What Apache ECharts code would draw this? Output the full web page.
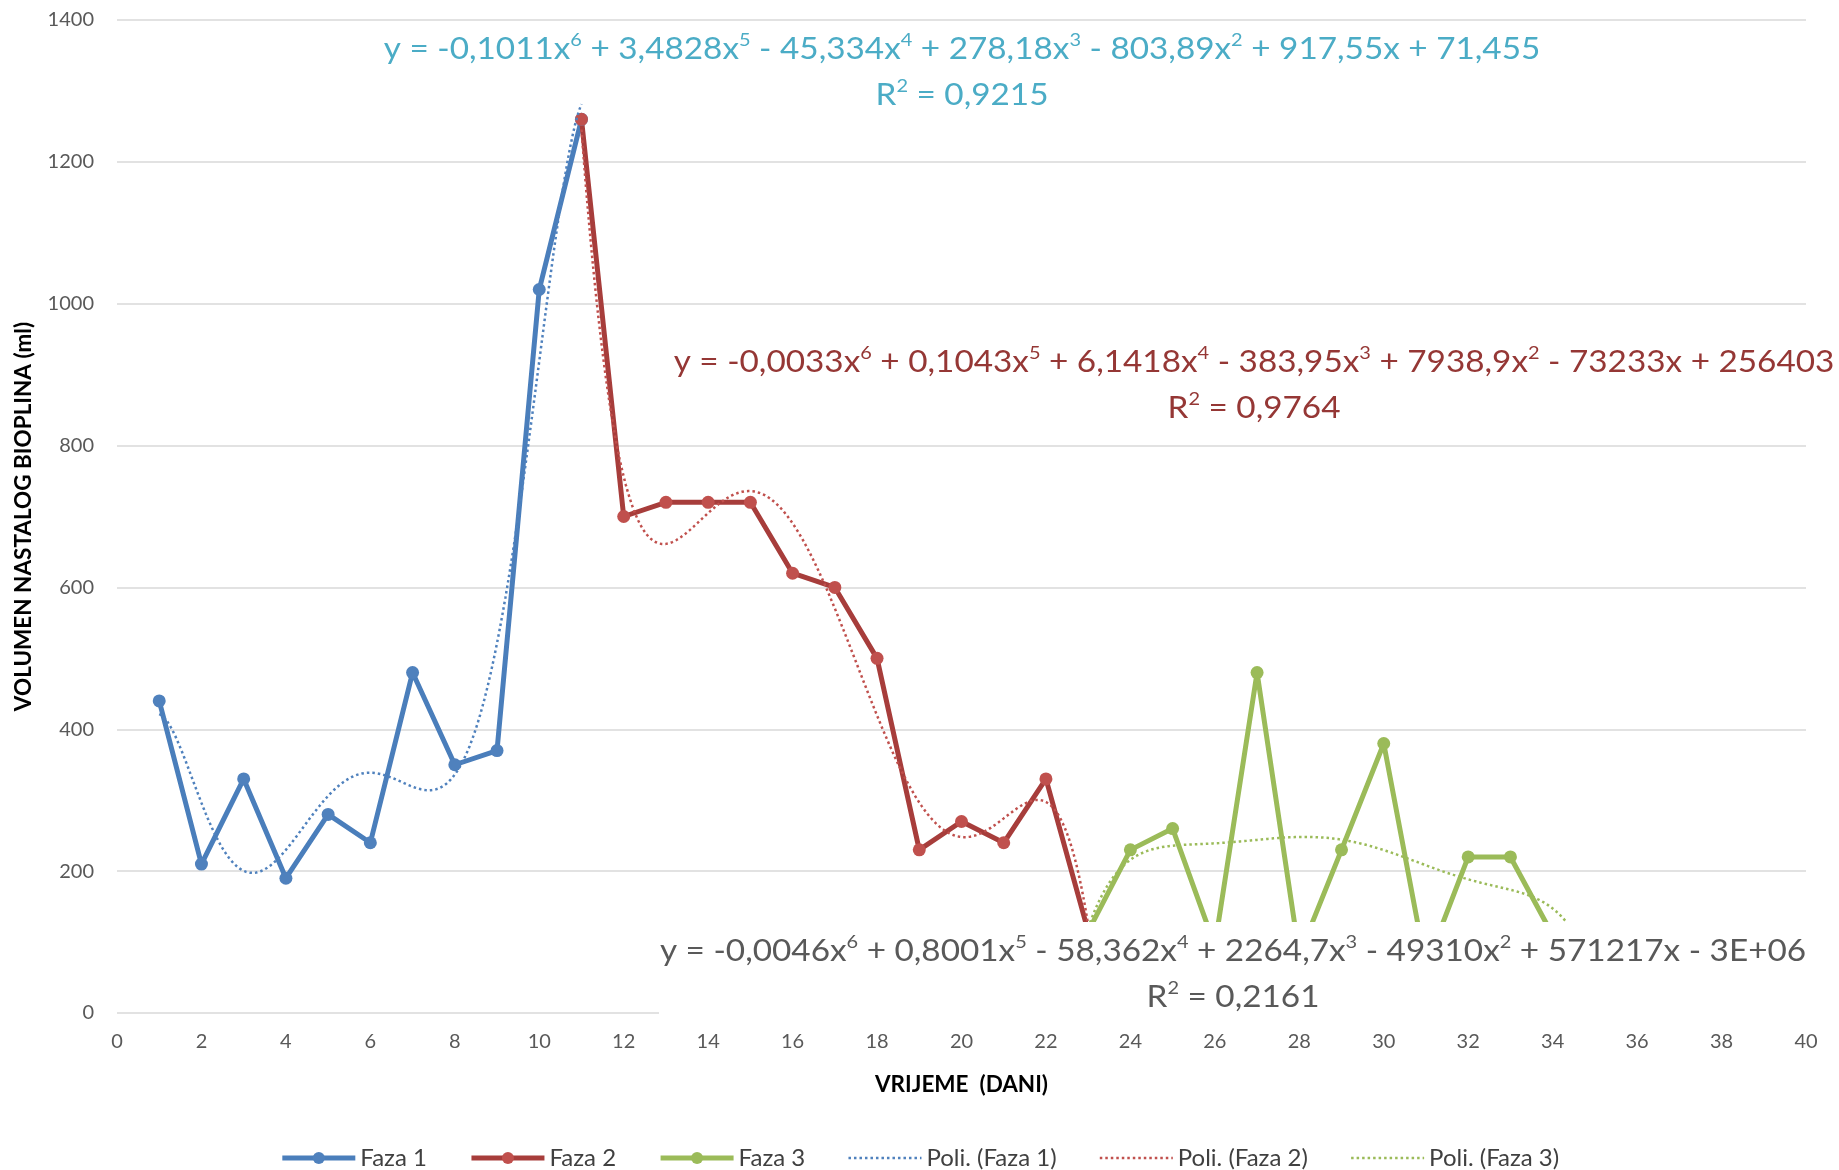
<!DOCTYPE html>
<html>
<head>
<meta charset="utf-8">
<script src="https://cdn.jsdelivr.net/npm/echarts@6/dist/echarts.min.js"></script>
<style>
  html, body { margin: 0; padding: 0; background: #ffffff; }
  #chart { width: 1839px; height: 1170px; }
</style>
</head>
<body>
<div id="chart"></div>
<script>
// Dnevni volumen nastalog bioplina (ml) po fazama pokusa
const daniFaza1 = [1, 2, 3, 4, 5, 6, 7, 8, 9, 10, 11];
const volFaza1  = [440, 210, 330, 190, 280, 240, 480, 350, 370, 1020, 1260];

const daniFaza2 = [11, 12, 13, 14, 15, 16, 17, 18, 19, 20, 21, 22, 23];
const volFaza2  = [1260, 700, 720, 720, 720, 620, 600, 500, 230, 270, 240, 330, 115];

const daniFaza3 = [23, 24, 25, 26, 27, 28, 29, 30, 31, 32, 33, 34, 35];
const volFaza3  = [115, 230, 260, 95, 480, 82, 230, 380, 65, 220, 220, 110, 60];

const legendNames = ['Faza 1', 'Faza 2', 'Faza 3', 'Poli. (Faza 1)', 'Poli. (Faza 2)', 'Poli. (Faza 3)'];

// Least-squares polynomial trend (degree 6), same as a spreadsheet "Poly." trendline
function polyFit(xs, ys, deg) {
  const n = xs.length;
  const mx = xs.reduce((a, b) => a + b, 0) / n;
  const sx = Math.max(...xs.map(x => Math.abs(x - mx))) || 1;
  const m = deg + 1;
  const A = Array.from({ length: m }, () => new Array(m + 1).fill(0));
  for (let i = 0; i < n; i++) {
    const t = (xs[i] - mx) / sx;
    const p = [1];
    for (let k = 1; k < 2 * m; k++) p.push(p[k - 1] * t);
    for (let r = 0; r < m; r++) {
      for (let c = 0; c < m; c++) A[r][c] += p[r + c];
      A[r][m] += ys[i] * p[r];
    }
  }
  for (let col = 0; col < m; col++) {
    let piv = col;
    for (let r = col + 1; r < m; r++) if (Math.abs(A[r][col]) > Math.abs(A[piv][col])) piv = r;
    [A[col], A[piv]] = [A[piv], A[col]];
    for (let r = 0; r < m; r++) {
      if (r === col) continue;
      const f = A[r][col] / A[col][col];
      for (let c = col; c <= m; c++) A[r][c] -= f * A[col][c];
    }
  }
  const coef = A.map((row, i) => row[m] / row[i]);
  const fn = x => {
    const t = (x - mx) / sx;
    let s = 0;
    for (let k = m - 1; k >= 0; k--) s = s * t + coef[k];
    return s;
  };
  return { fn };
}

// Sample the fitted trend across the series' own day range
function trendPoints(xs, ys) {
  const fit = polyFit(xs, ys, 6);
  const x0 = Math.min(...xs), x1 = Math.max(...xs);
  const pts = [];
  const steps = Math.round((x1 - x0) / 0.05);
  for (let i = 0; i <= steps; i++) {
    const x = x0 + (x1 - x0) * i / steps;
    pts.push([x, fit.fn(x)]);
  }
  return pts;
}

const zip = (xs, ys) => xs.map((x, i) => [x, ys[i]]);

const trend1 = trendPoints(daniFaza1, volFaza1);
const trend2 = trendPoints(daniFaza2, volFaza2);
const trend3 = trendPoints(daniFaza3, volFaza3);

const BLUE = '#4F81BD', BLUE_LINE = '#4A7EBB';
const RED = '#C0504D', RED_LINE = '#A73D3B';
const GREEN = '#9BBB59';

function dataSeries(name, xs, ys, lineColor, markColor) {
  return {
    name, type: 'line', data: zip(xs, ys),
    symbol: 'circle', symbolSize: 13, showSymbol: true,
    lineStyle: { width: 5, color: lineColor },
    itemStyle: { color: markColor },
    emphasis: { disabled: true },
    z: 3
  };
}
function trendSeries(name, pts, color) {
  return {
    name, type: 'line', data: pts,
    symbol: 'none', silent: true,
    lineStyle: { width: 2.5, color, type: [2.5, 3] },
    itemStyle: { color },
    emphasis: { disabled: true },
    z: 4
  };
}

const FONT = 'Lato, "Open Sans", sans-serif';
const eqRich = (color) => ({
  n: { fontSize: 30, fontFamily: FONT, lineHeight: 36, fill: color, color, verticalAlign: 'middle' },
  s: { fontSize: 18, fontFamily: FONT, lineHeight: 22, fill: color, color, verticalAlign: 'top' }
});
// Trendline equation / R² label, centred on (x, y)
function eqText(x, y, text, color) {
  return {
    type: 'text', z: 60, silent: true, x, y, scaleX: 1.11,
    style: {
      x: 0, y: 0, text, rich: eqRich(color),
      fill: color, font: '30px ' + FONT,
      align: 'center', textAlign: 'center',
      verticalAlign: 'middle', textVerticalAlign: 'middle'
    }
  };
}

const legendData = legendNames.map((name, i) => i < 3
  ? { name, lineStyle: { width: 5 } }
  : { name, lineStyle: { width: 2.5 }, itemStyle: { opacity: 0 } });

const chart = echarts.init(document.getElementById('chart'), null, { renderer: 'canvas' });

chart.setOption({
  animation: false,
  backgroundColor: '#ffffff',
  textStyle: { fontFamily: FONT },
  grid: { left: 117, right: 33, top: 20, bottom: 157, outerBoundsMode: 'none' },
  xAxis: {
    type: 'value', min: 0, max: 40, interval: 2,
    name: 'VRIJEME  (DANI)', nameLocation: 'middle', nameGap: 60,
    nameTextStyle: { fontWeight: 'bold', fontSize: 22.5, color: '#000000', fontFamily: FONT },
    axisLine: { show: false }, axisTick: { show: false }, splitLine: { show: false },
    axisLabel: { color: '#595959', fontSize: 20, margin: 19, fontFamily: FONT }
  },
  yAxis: {
    type: 'value', min: 0, max: 1400, interval: 200,
    name: 'VOLUMEN NASTALOG BIOPLINA (ml)', nameLocation: 'middle', nameGap: 82,
    nameTextStyle: { fontWeight: 'bold', fontSize: 22.5, color: '#000000', fontFamily: FONT },
    axisLine: { show: false }, axisTick: { show: false },
    splitLine: { lineStyle: { color: '#D9D9D9', width: 1.5 } },
    axisLabel: { color: '#595959', fontSize: 20, margin: 23, fontFamily: FONT, formatter: v => String(v) }
  },
  legend: {
    data: legendData, left: 'center', top: 1141,
    itemWidth: 73, itemHeight: 15, itemGap: 42,
    textStyle: { fontSize: 24, color: '#404040', fontFamily: FONT },
    selectedMode: false
  },
  series: [
    dataSeries('Faza 1', daniFaza1, volFaza1, BLUE_LINE, BLUE),
    dataSeries('Faza 2', daniFaza2, volFaza2, RED_LINE, RED),
    dataSeries('Faza 3', daniFaza3, volFaza3, GREEN, GREEN),
    trendSeries('Poli. (Faza 1)', trend1, BLUE),
    trendSeries('Poli. (Faza 2)', trend2, RED),
    trendSeries('Poli. (Faza 3)', trend3, GREEN)
  ],
  graphic: [
    // white box behind the Faza 3 equation, drawn over the plot
    { type: 'rect', z: 50, silent: true, shape: { x: 659, y: 922, width: 1155, height: 108 }, style: { fill: '#ffffff' } },
    eqText(962, 49, '{n|y = -0,1011x}{s|6}{n| + 3,4828x}{s|5}{n| - 45,334x}{s|4}{n| + 278,18x}{s|3}{n| - 803,89x}{s|2}{n| + 917,55x + 71,455}', '#4BACC6'),
    eqText(962, 95, '{n|R}{s|2}{n| = 0,9215}', '#4BACC6'),
    eqText(1254, 362, '{n|y = -0,0033x}{s|6}{n| + 0,1043x}{s|5}{n| + 6,1418x}{s|4}{n| - 383,95x}{s|3}{n| + 7938,9x}{s|2}{n| - 73233x + 256403}', '#953735'),
    eqText(1254, 408, '{n|R}{s|2}{n| = 0,9764}', '#953735'),
    eqText(1233, 951, '{n|y = -0,0046x}{s|6}{n| + 0,8001x}{s|5}{n| - 58,362x}{s|4}{n| + 2264,7x}{s|3}{n| - 49310x}{s|2}{n| + 571217x - 3E+06}', '#595959'),
    eqText(1233, 997, '{n|R}{s|2}{n| = 0,2161}', '#595959')
  ]
});
</script>
</body>
</html>
